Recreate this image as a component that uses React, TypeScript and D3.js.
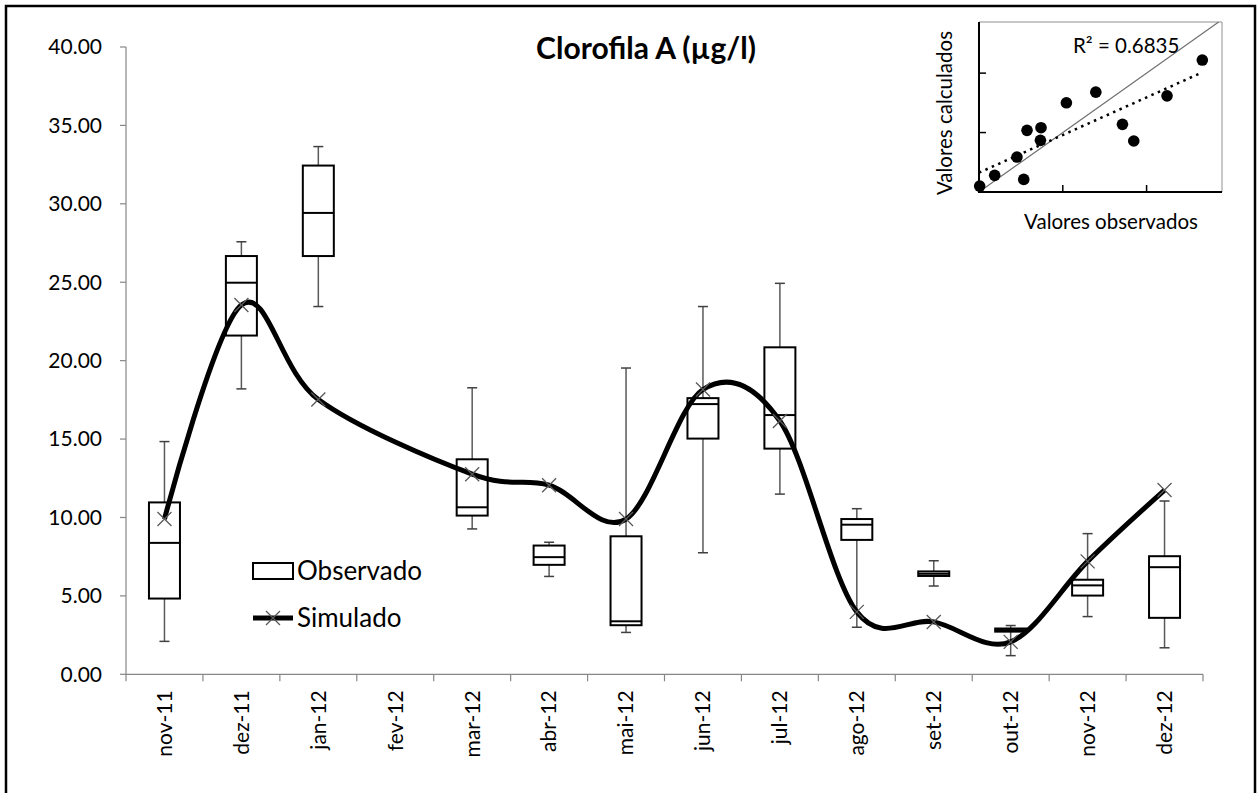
import React from 'react';
import * as d3 from 'd3';

// ---------- data ----------
const months = ['nov-11', 'dez-11', 'jan-12', 'fev-12', 'mar-12', 'abr-12', 'mai-12', 'jun-12', 'jul-12', 'ago-12', 'set-12', 'out-12', 'nov-12', 'dez-12'];
const obsMin: (number | null)[] = [2.1, 18.2, 23.45, null, 9.27, 6.24, 2.67, 7.75, 11.49, 3.0, 5.63, 1.19, 3.68, 1.69];
const obsQ1: (number | null)[] = [4.83, 21.6, 26.67, null, 10.12, 6.98, 3.13, 15.03, 14.39, 8.57, 6.27, 2.72, 5.02, 3.6];
const obsMedian: (number | null)[] = [8.38, 24.97, 29.42, null, 10.65, 7.47, 3.38, 17.23, 16.53, 9.54, 6.41, 2.82, 5.67, 6.83];
const obsQ3: (number | null)[] = [10.96, 26.67, 32.44, null, 13.71, 8.21, 8.8, 17.61, 20.85, 9.9, 6.56, 2.92, 6.03, 7.53];
const obsMax: (number | null)[] = [14.84, 27.58, 33.65, null, 18.27, 8.42, 19.53, 23.45, 24.93, 10.56, 7.24, 3.11, 8.97, 11.05];
const simulated: (number | null)[] = [9.9, 23.55, 17.52, null, 12.76, 12.06, 9.9, 18.16, 16.15, 3.98, 3.34, 2.07, 7.2, 11.75];
const yTicks = [0, 5, 10, 15, 20, 25, 30, 35, 40];

// inset scatter (observed vs calculated)
const scatterObs = [0.08, 1.87, 4.53, 5.34, 5.73, 7.4, 7.33, 10.43, 13.94, 17.12, 18.47, 22.44, 26.65];
const scatterCalc = [1.0, 2.8, 5.88, 2.12, 10.37, 10.82, 8.69, 15.01, 16.8, 11.38, 8.58, 16.18, 22.2];
const insetTicks = [10, 20];
const r2Label = 'R² = 0.6835';
const titleText = 'Clorofila A (µg/l)';

const FONT = 'Lato, "Open Sans", sans-serif';

export default function App() {
  const W = 1260, H = 793;
  const left = 126, right = 1203, top = 47, bottom = 674.3;
  const x = d3.scaleBand<string>().domain(months).range([left, right]);
  const y = d3.scaleLinear().domain([0, 40]).range([bottom, top]);
  const boxW = 31, capW = 10;

  const simPts = months
    .map((m, i) => ({ m, v: simulated[i] }))
    .filter((d) => d.v !== null) as { m: string; v: number }[];
  const line = d3
    .line<{ m: string; v: number }>()
    .x((d) => (x(d.m) as number) + x.bandwidth() / 2)
    .y((d) => y(d.v))
    .curve(d3.curveCardinal.tension(0));

  // inset
  const ix = d3.scaleLinear().domain([0, 29]).range([979, 1222]);
  const iy = d3.scaleLinear().domain([0, 28.6]).range([192, 22]);
  const mx = d3.mean(scatterObs) as number;
  const my = d3.mean(scatterCalc) as number;
  let sxy = 0, sxx = 0;
  scatterObs.forEach((v, i) => {
    sxy += (v - mx) * (scatterCalc[i] - my);
    sxx += (v - mx) * (v - mx);
  });
  const slope = sxy / sxx;
  const intercept = my - slope * mx;
  const xMaxObs = d3.max(scatterObs) as number;

  return (
    <svg width={W} height={H} style={{ position: 'absolute', left: 0, top: 0, background: '#fff' }} fontFamily={FONT}>
      <rect x={0} y={0} width={W} height={H} fill="#fff" />
      <rect x={6} y={6} width={1249} height={830} fill="none" stroke="#000" strokeWidth={2.5} />

      {/* title */}
      <text x={646} y={59} textAnchor="middle" fontSize={30} fontWeight="bold" fill="#000">
        {titleText}
      </text>

      {/* y axis */}
      <line x1={left} x2={left} y1={top} y2={bottom} stroke="#868686" strokeWidth={1.2} />
      {yTicks.map((t) => (
        <g key={t}>
          <line x1={left - 6} x2={left} y1={y(t)} y2={y(t)} stroke="#868686" strokeWidth={1.2} />
          <text x={102} y={y(t)} dy="0.35em" textAnchor="end" fontSize={21} fill="#000">
            {t.toFixed(2)}
          </text>
        </g>
      ))}

      {/* x axis */}
      <line x1={left} x2={right} y1={bottom} y2={bottom} stroke="#868686" strokeWidth={1.2} />
      {months.map((m) => (
        <line key={'t' + m} x1={x(m) as number} x2={x(m) as number} y1={bottom} y2={bottom + 7} stroke="#868686" strokeWidth={1.2} />
      ))}
      <line x1={right} x2={right} y1={bottom} y2={bottom + 7} stroke="#868686" strokeWidth={1.2} />
      {months.map((m) => {
        const cx = (x(m) as number) + x.bandwidth() / 2;
        return (
          <text key={'l' + m} transform={`translate(${cx},${bottom + 16}) rotate(-90)`} dy="0.35em" textAnchor="end" fontSize={21} fill="#000">
            {m}
          </text>
        );
      })}

      {/* boxes */}
      {months.map((m, i) => {
        if (obsMin[i] === null) return null;
        const cx = (x(m) as number) + x.bandwidth() / 2;
        const lo = obsMin[i] as number, q1 = obsQ1[i] as number, md = obsMedian[i] as number, q3 = obsQ3[i] as number, hi = obsMax[i] as number;
        return (
          <g key={'b' + m}>
            <line x1={cx} x2={cx} y1={y(hi)} y2={y(lo)} stroke="#595959" strokeWidth={1.5} />
            <line x1={cx - capW / 2} x2={cx + capW / 2} y1={y(hi)} y2={y(hi)} stroke="#404040" strokeWidth={1.5} />
            <line x1={cx - capW / 2} x2={cx + capW / 2} y1={y(lo)} y2={y(lo)} stroke="#404040" strokeWidth={1.5} />
            <rect x={cx - boxW / 2} y={y(q3)} width={boxW} height={y(q1) - y(q3)} fill="#fff" stroke="#000" strokeWidth={2} />
            <line x1={cx - boxW / 2} x2={cx + boxW / 2} y1={y(md)} y2={y(md)} stroke="#000" strokeWidth={2} />
          </g>
        );
      })}

      {/* simulated */}
      <path d={line(simPts) as string} fill="none" stroke="#000" strokeWidth={5} strokeLinejoin="round" />
      {simPts.map((d) => {
        const cx = (x(d.m) as number) + x.bandwidth() / 2;
        const cy = y(d.v);
        const s = 7;
        return (
          <path key={'x' + d.m} d={`M${cx - s},${cy - s}L${cx + s},${cy + s}M${cx - s},${cy + s}L${cx + s},${cy - s}`} stroke="#595959" strokeWidth={1.3} />
        );
      })}

      {/* legend */}
      <rect x={253} y={563} width={40} height={16} fill="#fff" stroke="#000" strokeWidth={2} />
      <text x={297} y={580} fontSize={26} fill="#000">Observado</text>
      <line x1={253} x2={293} y1={618} y2={618} stroke="#000" strokeWidth={5} />
      <path d="M266,611L280,625M266,625L280,611" stroke="#595959" strokeWidth={1.3} />
      <text x={297} y={627} fontSize={26} fill="#000">Simulado</text>

      {/* inset */}
      <g>
        <line x1={979} x2={1222} y1={22} y2={22} stroke="#909090" strokeWidth={1} />
        <line x1={1222} x2={1222} y1={22} y2={192} stroke="#909090" strokeWidth={1} />
        <line x1={ix(0)} y1={iy(0)} x2={ix(28.6)} y2={iy(28.6)} stroke="#707070" strokeWidth={1.2} />
        <line x1={ix(0)} y1={iy(intercept)} x2={ix(xMaxObs)} y2={iy(intercept + slope * xMaxObs)} stroke="#000" strokeWidth={2.5} strokeDasharray="2.5,4.5" />
        {scatterObs.map((v, i) => (
          <circle key={'s' + i} cx={ix(v)} cy={iy(scatterCalc[i])} r={5.8} fill="#000" />
        ))}
        <line x1={979} x2={979} y1={22} y2={193} stroke="#000" strokeWidth={2} />
        <line x1={978} x2={1222} y1={192} y2={192} stroke="#000" strokeWidth={2} />
        {insetTicks.map((t) => (
          <g key={'it' + t}>
            <line x1={979} x2={986} y1={iy(t)} y2={iy(t)} stroke="#000" strokeWidth={1.5} />
            <line x1={ix(t)} x2={ix(t)} y1={192} y2={185} stroke="#000" strokeWidth={1.5} />
          </g>
        ))}
        <text x={1073} y={53} fontSize={20.5} fill="#000">{r2Label}</text>
        <text transform="translate(945,113) rotate(-90)" textAnchor="middle" dy="0.35em" fontSize={20.5} fill="#000">Valores calculados</text>
        <text x={1111} y={222} textAnchor="middle" dy="0.35em" fontSize={20.5} fill="#000">Valores observados</text>
      </g>
    </svg>
  );
}
